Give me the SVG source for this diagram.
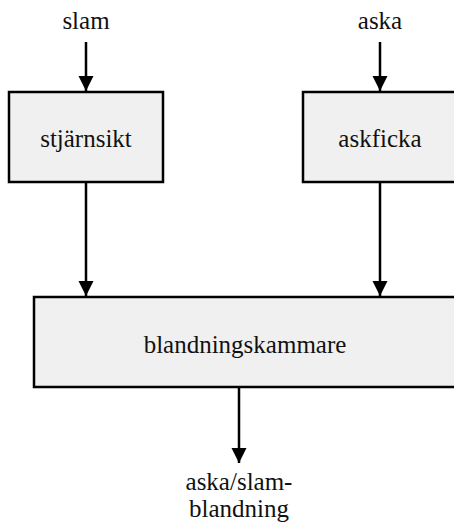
<svg xmlns="http://www.w3.org/2000/svg" width="454" height="523" viewBox="0 0 454 523">
<style>
.box{fill:#f0f0f0;stroke:#000;stroke-width:2.5}
.t{font-family:"Liberation Serif","Times New Roman",serif;font-size:25px;fill:#111;text-anchor:middle}
.c{stroke:#000;stroke-width:2.5;fill:none}
</style>
<defs>
<marker id="ah" markerUnits="userSpaceOnUse" markerWidth="16" markerHeight="16" viewBox="0 0 16 16" refX="15" refY="8" orient="auto">
<path d="M0,0.5 L15,8 L0,15.5 Z" fill="#000"/>
</marker>
</defs>
<g id="labels">
<text class="t" x="86" y="29">slam</text>
<text class="t" x="380" y="29">aska</text>
</g>
<g id="stjarnsikt">
<rect class="box" x="9" y="92" width="154" height="90"/>
<text class="t" x="86" y="147">stjärnsikt</text>
</g>
<g id="askficka">
<rect class="box" x="303" y="92" width="154" height="90"/>
<text class="t" x="380" y="147">askficka</text>
</g>
<g id="blandningskammare">
<rect class="box" x="34" y="297" width="424" height="90"/>
<text class="t" x="245" y="353">blandningskammare</text>
</g>
<g id="output">
<text class="t" x="239" y="490">aska/slam-</text>
<text class="t" x="239" y="517">blandning</text>
</g>
<g id="connectors">
<line class="c" x1="86" y1="42" x2="86" y2="91" marker-end="url(#ah)"/>
<line class="c" x1="380" y1="42" x2="380" y2="91" marker-end="url(#ah)"/>
<line class="c" x1="86" y1="183" x2="86" y2="296" marker-end="url(#ah)"/>
<line class="c" x1="380" y1="183" x2="380" y2="296" marker-end="url(#ah)"/>
<line class="c" x1="239" y1="388" x2="239" y2="463" marker-end="url(#ah)"/>
</g>
</svg>
